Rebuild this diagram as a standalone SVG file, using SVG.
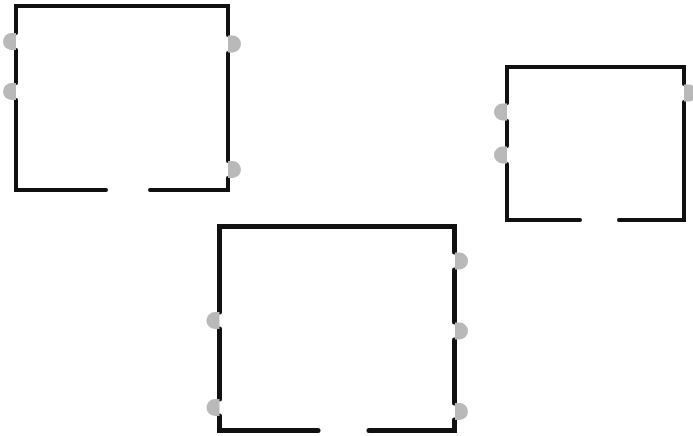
<svg xmlns="http://www.w3.org/2000/svg" xmlns:xlink="http://www.w3.org/1999/xlink" width="693" height="436" viewBox="0 0 693 436">
<style>
.wall{fill:none;stroke:#111;stroke-width:4;stroke-linecap:round;stroke-linejoin:miter}
.thick{stroke-width:5}
.port{fill:#b9b9b9;stroke:none}
</style>
<defs>
<path id="portL" class="port" d="M0,-8.5 h-4.5 a8.5,8.5 0 0 0 0,17 h4.5 Z"/>
<path id="portR" class="port" d="M0,-8.5 h4.5 a8.5,8.5 0 0 1 0,17 h-4.5 Z"/>
</defs>
<rect width="693" height="436" fill="#fff"/>
<g id="room1">
<path class="wall" d="M106,190 H16 V100 M16,83 V50 M16,33 V6 H228 V35 M228,53 V161 M228,178 V190 H150"/>
<use xlink:href="#portL" x="16" y="41.5"/>
<use xlink:href="#portL" x="16" y="91.5"/>
<use xlink:href="#portR" x="228" y="44"/>
<use xlink:href="#portR" x="228" y="169.5"/>
</g>
<g id="room2">
<path class="wall" d="M580,220 H507 V164 M507,146 V121 M507,103 V67 H684 V84 M684,102 V220 H619"/>
<use xlink:href="#portL" x="507" y="112"/>
<use xlink:href="#portL" x="507" y="155"/>
<use xlink:href="#portR" x="684" y="93"/>
</g>
<g id="room3">
<path class="wall thick" d="M318,430.5 H219.5 V416 M219.5,399 V329 M219.5,312 V226.5 H454.5 V252 M454.5,270 V322 M454.5,340 V403 M454.5,420 V430.5 H369"/>
<use xlink:href="#portL" x="219.5" y="320.5"/>
<use xlink:href="#portL" x="219.5" y="407.5"/>
<use xlink:href="#portR" x="455" y="261"/>
<use xlink:href="#portR" x="455" y="331"/>
<use xlink:href="#portR" x="455" y="411.5"/>
</g>
<g id="connectors"/>
</svg>
